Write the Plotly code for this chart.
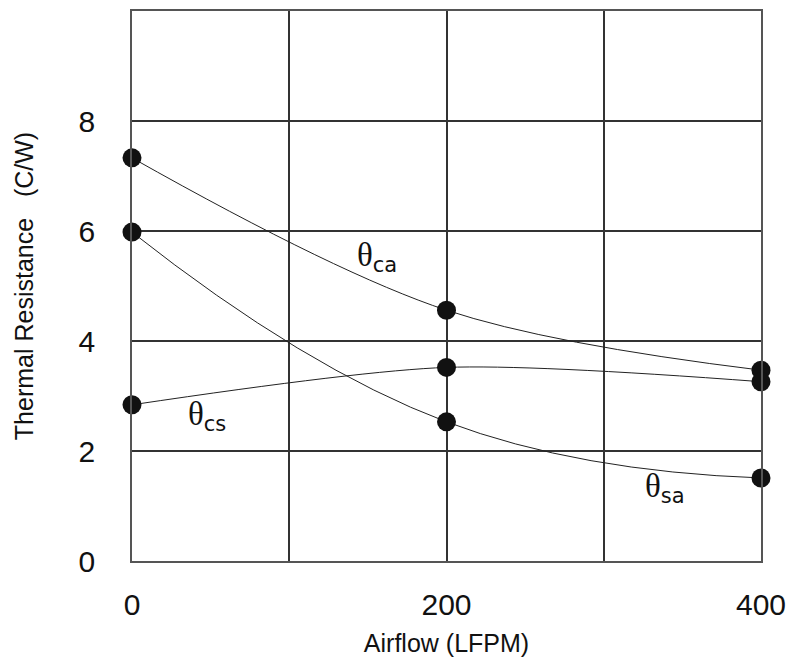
import plotly.graph_objects as go

airflow = [0, 200, 400]
theta_ca = [7.33, 4.56, 3.47]
theta_cs = [2.84, 3.52, 3.26]
theta_sa = [5.98, 2.53, 1.51]

x_tick_vals = [0, 100, 200, 300, 400]
x_tick_text = ["0", "", "200", "", "400"]
y_tick_vals = [0, 2, 4, 6, 8]
y_tick_text = ["0", "2", "4", "6", "8"]

labels = [
    ("ca", 141.5, 5.53),
    ("cs", 34.5, 2.63),
    ("sa", 325.0, 1.33),
]

FONT = "Liberation Sans, Arial, sans-serif"

fig = go.Figure()
for ys, sm in ((theta_ca, 1.0), (theta_cs, 0.8), (theta_sa, 1.3)):
    fig.add_trace(go.Scatter(
        x=airflow, y=ys, mode="lines+markers",
        line=dict(color="#222222", width=1, shape="spline", smoothing=sm),
        marker=dict(color="#111111", size=19),
        showlegend=False, cliponaxis=False,
    ))

for sub, lx, ly in labels:
    fig.add_annotation(
        x=lx, y=ly, xref="x", yref="y", xanchor="left", yanchor="middle",
        text='<span style="font-family:Liberation Serif;font-size:33px">θ</span><sub>' + sub + '</sub>',
        showarrow=False, font=dict(size=30, color="#111111", family="DejaVu Sans"),
    )

fig.update_layout(
    width=799, height=667,
    margin=dict(l=124, r=46, t=3, b=114),
    paper_bgcolor="white", plot_bgcolor="white",
    font=dict(family=FONT, color="#111111"),
)
fig.update_xaxes(
    range=[0, 400], tickvals=x_tick_vals, ticktext=x_tick_text,
    showgrid=True, gridcolor="#333333", gridwidth=1.5,
    showline=True, linecolor="#555555", linewidth=1.5, mirror=True,
    zeroline=False, ticks="", ticklabelstandoff=16, automargin=False,
    tickfont=dict(size=30, family=FONT),
    title=dict(text="Airflow (LFPM)", font=dict(size=25, family=FONT), standoff=15),
)
fig.update_yaxes(
    range=[0, 10], tickvals=y_tick_vals, ticktext=y_tick_text,
    showgrid=True, gridcolor="#333333", gridwidth=1.5,
    showline=True, linecolor="#555555", linewidth=1.5, mirror=True,
    zeroline=False, ticks="", ticklabelstandoff=29, automargin=False,
    tickfont=dict(size=30, family=FONT),
    title=dict(text="Thermal Resistance\u00a0\u00a0\u00a0(C/W)", font=dict(size=25, family=FONT), standoff=38),
)

fig.write_html("out.html")
